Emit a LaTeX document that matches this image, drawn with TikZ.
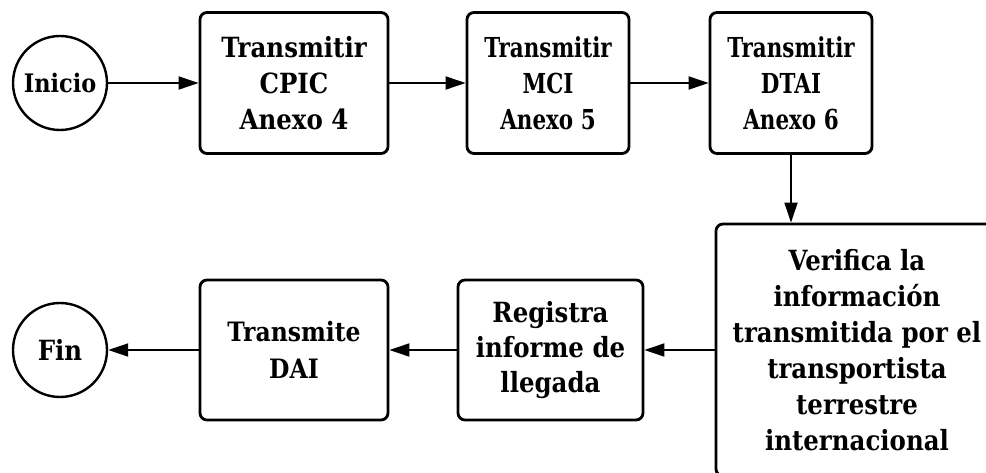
\documentclass[tikz,border=0pt]{standalone}
\usepackage{fontspec}
\setmainfont{DejaVu Serif}[FakeStretch=0.88]
\newfontfamily\narrowserif{DejaVu Serif}[FakeStretch=0.78]
\usetikzlibrary{arrows.meta}
\begin{document}
\begin{tikzpicture}[x=1pt,y=-1pt,
  every node/.style={font=\bfseries\fontsize{27.8}{36}\selectfont, align=center, inner sep=0pt},
  narrowtext/.style={font=\narrowserif\bfseries\fontsize{27.5}{36}\selectfont},
  procbox/.style={draw, line width=2.8pt, rounded corners=7pt, minimum width=188pt, minimum height=141pt},
  endcirc/.style={draw, circle, line width=2.4pt, minimum size=94pt},
  flow/.style={line width=1.8pt, -{Triangle[length=20pt,width=13pt]}}]
\useasboundingbox (0,0) rectangle (986,473);
\node[endcirc, font=\bfseries\fontsize{25.5}{30}\selectfont] (ini) at (60,83) {Inicio};
\node[procbox] (b1) at (294,83) {Transmitir\\CPIC\\Anexo 4};
\node[procbox, narrowtext, minimum width=162pt] (b2) at (548,83) {Transmitir\\MCI\\Anexo 5};
\node[procbox, narrowtext, minimum width=162pt] (b3) at (791,83) {Transmitir\\DTAI\\Anexo 6};
\node[procbox, minimum width=282pt, minimum height=252pt] (ver) at (857,350) {Verifica la\\información\\transmitida por el\\transportista\\terrestre\\internacional};
\node[procbox, font=\bfseries\fontsize{27.8}{35}\selectfont, minimum width=185pt, minimum height=140pt] (reg) at (550.5,350) {Registra\\informe de\\llegada};
\node[procbox, font=\bfseries\fontsize{26.7}{37}\selectfont, minimum height=140pt] (dai) at (294,350) {Transmite\\DAI};
\node[endcirc] (fin) at (60,350) {Fin};
\draw[flow] (ini) -- (b1);
\draw[flow] (b1) -- (b2);
\draw[flow] (b2) -- (b3);
\draw[flow] (b3.south) -- (ver.north -| b3.south);
\draw[flow] (ver.west) -- (reg.east);
\draw[flow] (reg) -- (dai);
\draw[flow] (dai) -- (fin);
\end{tikzpicture}
\end{document}
